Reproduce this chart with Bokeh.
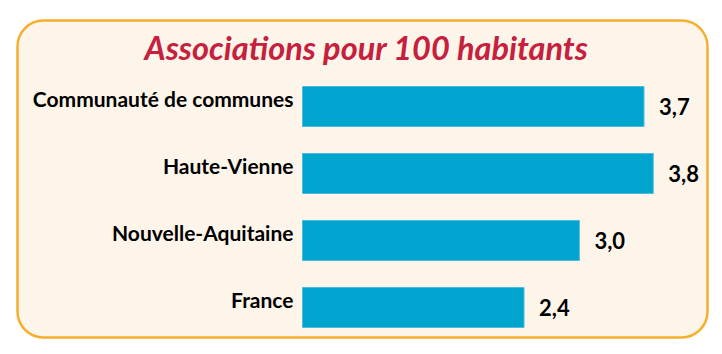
from bokeh.plotting import figure
from bokeh.models import ColumnDataSource, Range1d, BoxAnnotation
from bokeh.core.properties import value
from bokeh.embed import file_html
from bokeh.resources import INLINE

categories = ["Communauté de communes", "Haute-Vienne", "Nouvelle-Aquitaine", "France"]
values = [3.7, 3.8, 3.0, 2.4]
title_text = "Associations pour 100 habitants"

labels = [f"{v:.1f}".replace(".", ",") for v in values]
pos = list(range(len(categories)))

W, H = 722, 354
PX_PER_UNIT = 92.3
X0 = 302
ROW = 67
Y0 = 106

def xd(px):
    return (px - X0) / PX_PER_UNIT

def yd(py):
    return (py - Y0) / ROW

p = figure(width=W, height=H, output_backend="svg", toolbar_location=None,
           x_range=Range1d(xd(0), xd(W)), y_range=Range1d(yd(H), yd(0)),
           x_axis_location=None, y_axis_location=None, min_border=0)
p.grid.visible = False
p.outline_line_color = None
p.background_fill_color = "white"
p.border_fill_color = "white"

box = BoxAnnotation(left=xd(17), right=xd(707), top=yd(20), bottom=yd(337),
                    fill_color="#FEF5EA", fill_alpha=1.0,
                    line_color="#F6AE2D", line_alpha=1.0, line_width=2.5,
                    border_radius=26, level="underlay")
p.add_layout(box)

src = ColumnDataSource(dict(cat=categories, val=values, lab=labels, y=pos))

p.hbar(y="y", left=0, right="val", height=40 / ROW, source=src,
       fill_color="#00A5CF", line_color="#4DBBDD", line_width=1)

p.text(x=0, y="y", text="cat", source=src, x_offset=-9, y_offset=-8,
       text_align="right", text_baseline="middle",
       text_font=value("Lato"), text_font_style="bold",
       text_font_size="21px", text_color="#000000")

p.text(x="val", y="y", text="lab", source=src, x_offset=15, y_offset=0,
       text_align="left", text_baseline="middle",
       text_font=value("Lato"), text_font_style="bold",
       text_font_size="22px", text_color="#000000")

p.text(x=[xd(366)], y=[yd(47)], text=[title_text],
       text_align="center", text_baseline="middle",
       text_font=value("Lato"), text_font_style="bold italic",
       text_font_size="32.5px", text_color="#C6203D")

open("out.html", "w").write(file_html(p, INLINE))
